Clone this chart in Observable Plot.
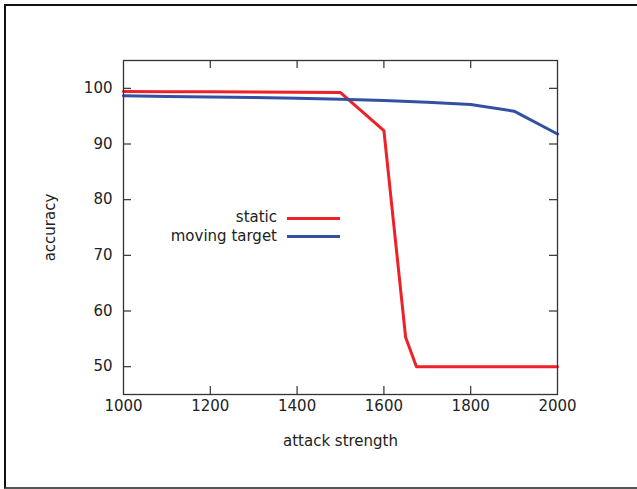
<!DOCTYPE html>
<html><head><meta charset="utf-8">
<script src="https://cdn.jsdelivr.net/npm/d3@7"></script>
<script src="https://cdn.jsdelivr.net/npm/@observablehq/plot@0.6"></script>
<style>
html,body{margin:0;background:#fff;overflow:hidden;}
#wrap{position:relative;width:637px;height:489px;overflow:hidden;font-family:"DejaVu Sans",sans-serif;}
#border{position:absolute;left:4px;top:4px;width:700px;height:481px;border-top:2px solid #111;border-left:2px solid #111;border-bottom:2px solid #555;}
#chart{position:absolute;left:0;top:0;}
.lg{position:absolute;font-size:15px;color:#222;line-height:18px;}
.lt{text-align:right;width:200px;}
.ll{height:3px;}
</style></head>
<body><div id="wrap"><div id="border"></div><div id="chart"></div><div id="legend"></div></div>
<script>
const staticX = [1000,1100,1200,1300,1400,1500,1600,1650,1675,1700,1800,1900,2000];
const staticY = [99.45,99.4,99.4,99.35,99.3,99.25,92.4,55.3,50,50,50,50,50];
const movingX = [1000,1100,1200,1300,1400,1500,1600,1700,1800,1900,2000];
const movingY = [98.65,98.55,98.45,98.35,98.2,98.05,97.8,97.5,97.1,95.9,91.8];
const xTicks = [1000,1200,1400,1600,1800,2000];
const yTicks = [50,60,70,80,90,100];
const seriesNames = ["static","moving target"];
const seriesColors = ["#ee2128","#3450a2"];

const W=637,H=489,mL=123,mT=60,mR=80,mB=95;
const fw=W-mL-mR, fh=H-mT-mB;
const sIdx = staticX.map((_,i)=>i), mIdx = movingX.map((_,i)=>i);

const chart = Plot.plot({
  width:W,height:H,marginLeft:mL,marginTop:mT,marginRight:mR,marginBottom:mB,
  style:{fontFamily:"DejaVu Sans, sans-serif",fontSize:"15px",background:"transparent",color:"#222"},
  x:{domain:[1000,2000]},
  y:{domain:[45,105]},
  marks:[
    Plot.tickX(xTicks.slice(1,-1),{x:d=>d,insetTop:fh-8,stroke:"#333",strokeWidth:1.2}),
    Plot.tickX(xTicks.slice(1,-1),{x:d=>d,insetBottom:fh-8,stroke:"#333",strokeWidth:1.2}),
    Plot.tickY(yTicks,{y:d=>d,insetRight:fw-8,stroke:"#333",strokeWidth:1.2}),
    Plot.tickY(yTicks,{y:d=>d,insetLeft:fw-8,stroke:"#333",strokeWidth:1.2}),
    Plot.axisX({ticks:xTicks,tickSize:0,tickPadding:6,label:null,tickFormat:d=>String(d)}),
    Plot.axisY({ticks:yTicks,tickSize:0,tickPadding:11,label:null}),
    Plot.line(sIdx,{x:i=>staticX[i],y:i=>staticY[i],stroke:seriesColors[0],strokeWidth:3}),
    Plot.line(mIdx,{x:i=>movingX[i],y:i=>movingY[i],stroke:seriesColors[1],strokeWidth:3}),
    Plot.frame({stroke:"#333",strokeWidth:1.3}),
    Plot.text(["attack strength"],{text:d=>d,frameAnchor:"bottom",dy:47,lineAnchor:"middle",textAnchor:"middle",fontSize:15,fill:"#222"}),
    Plot.text(["accuracy"],{text:d=>d,frameAnchor:"left",rotate:-90,dx:-73,textAnchor:"middle",lineAnchor:"middle",fontSize:15,fill:"#222"})
  ]
});
document.getElementById("chart").appendChild(chart);

const lg = document.getElementById("legend");
const rowsY = [218.3,236.7];
seriesNames.forEach((n,i)=>{
  const t=document.createElement("div");
  t.className="lg lt"; t.textContent=n;
  t.style.left=(277-200)+"px"; t.style.top=(rowsY[i]-10)+"px";
  lg.appendChild(t);
  const l=document.createElement("div");
  l.className="lg ll"; l.style.background=seriesColors[i];
  l.style.left="287px"; l.style.width="53px"; l.style.top=(rowsY[i]-1.5)+"px";
  lg.appendChild(l);
});
</script></body></html>
